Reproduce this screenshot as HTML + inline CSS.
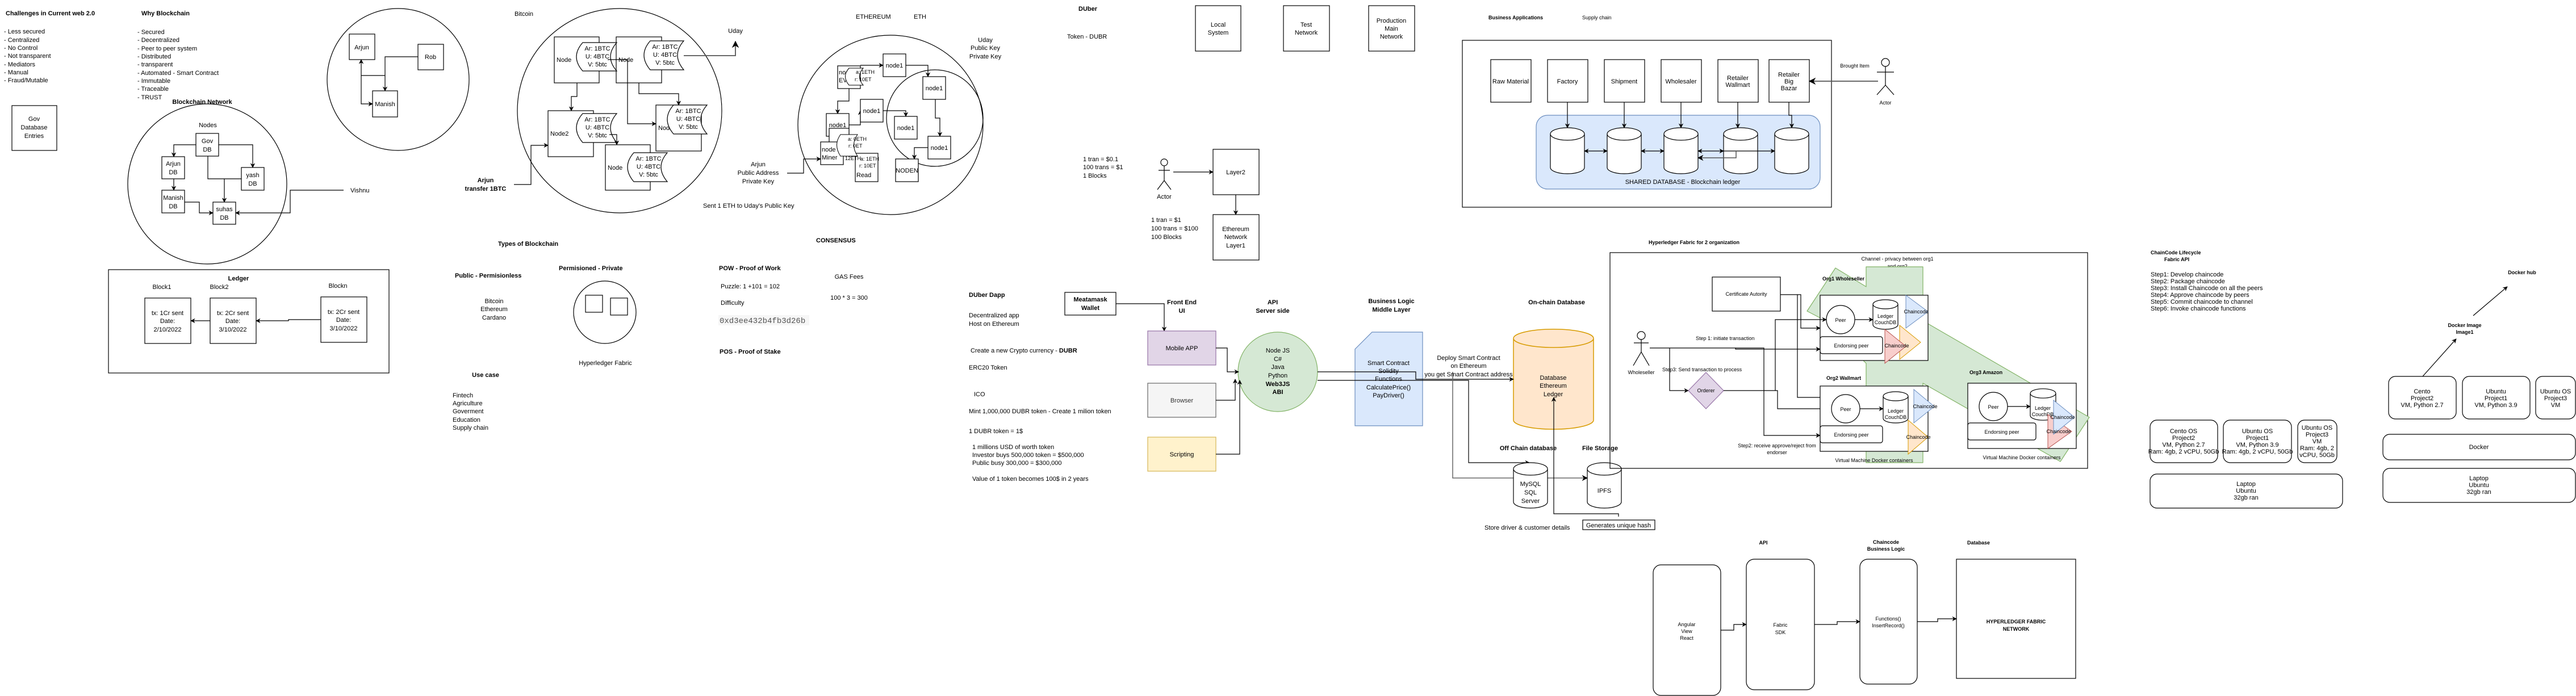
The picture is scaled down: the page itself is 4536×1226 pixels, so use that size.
<!DOCTYPE html>
<html><head><meta charset="utf-8">
<style>
html,body{margin:0;padding:0;background:#fff;}
svg{display:block;font-family:"Liberation Sans",Arial,sans-serif;}
text{font-size:11px;fill:#000;}
.b{font-weight:bold;}
.c{text-anchor:middle;}
.s{font-size:9px;}
.l{fill:none;stroke:#000;stroke-width:1.2;}
.bx{fill:#fff;stroke:#000;stroke-width:1.2;}
</style></head><body>
<svg width="4536" height="1226" viewBox="0 0 4536 1226" xmlns="http://www.w3.org/2000/svg">
<defs>
<marker id="a" viewBox="0 0 10 10" refX="9" refY="5" markerWidth="7" markerHeight="7" orient="auto-start-reverse"><path d="M0,0 L10,5 L0,10 L3,5 Z" fill="#000"/></marker>
</defs>
<rect width="4536" height="1226" fill="#fff"/>

<!-- Challenges -->
<text x="10" y="27" class="b">Challenges in Current web 2.0</text>
<text x="7" y="59">- Less secured</text><text x="7" y="74">- Centralized</text><text x="7" y="88">- No Control</text><text x="7" y="102">- Not transparent</text><text x="7" y="117">- Mediators</text><text x="7" y="131">- Manual</text><text x="7" y="145">- Fraud/Mutable</text>
<text x="249" y="27" class="b">Why Blockchain</text>
<text x="242" y="60">- Secured</text><text x="242" y="74">- Decentralized</text><text x="242" y="89">- Peer to peer system</text><text x="242" y="103">- Distributed</text><text x="242" y="117">- transparent</text><text x="242" y="132">- Automated - Smart Contract</text><text x="242" y="146">- Immutable</text><text x="242" y="160">- Traceable</text><text x="242" y="175">- TRUST</text>
<rect x="21" y="186" width="79" height="79" class="bx"/>
<text x="60" y="213" class="c">Gov</text><text x="60" y="228" class="c">Database</text><text x="60" y="243" class="c">Entries</text>

<!-- Blockchain network -->
<text x="356" y="183" class="b c">Blockchain Network</text>
<ellipse cx="365" cy="324" rx="140" ry="141" class="l"/>
<text x="366" y="224" class="c">Nodes</text>
<path class="l" d="M345,255 H306 V276" marker-end="url(#a)"/>
<path class="l" d="M385,255 H445 V295" marker-end="url(#a)"/>
<path class="l" d="M366,275 V315 H425 M395,315 V356" marker-end="url(#a)"/>
<path class="l" d="M306,315 V335" marker-end="url(#a)"/>
<path class="l" d="M325,356 H351 V375 H375" marker-end="url(#a)"/>
<path class="l" d="M605,335 H511 V375 H415" marker-end="url(#a)"/>
<rect x="345" y="235" width="40" height="40" class="bx"/><text x="365" y="252" class="c">Gov</text><text x="365" y="267" class="c">DB</text>
<rect x="285" y="276" width="40" height="39" class="bx"/><text x="305" y="292" class="c">Arjun</text><text x="305" y="307" class="c">DB</text>
<rect x="425" y="295" width="40" height="40" class="bx"/><text x="445" y="312" class="c">yash</text><text x="445" y="327" class="c">DB</text>
<rect x="285" y="335" width="40" height="40" class="bx"/><text x="305" y="352" class="c">Manish</text><text x="305" y="367" class="c">DB</text>
<rect x="375" y="356" width="40" height="39" class="bx"/><text x="395" y="372" class="c">suhas</text><text x="395" y="387" class="c">DB</text>
<text x="617" y="339">Vishnu</text>

<!-- top right small circle -->
<ellipse cx="701" cy="140" rx="125" ry="125" class="l"/>
<path class="l" d="M736,100 H678 V160" marker-end="url(#a)"/>
<path class="l" d="M636,133 H678"/>
<path class="l" d="M636,133 V105" marker-end="url(#a)"/>
<path class="l" d="M636,133 V183 H656" marker-end="url(#a)"/>
<rect x="615" y="60" width="45" height="45" class="bx"/><text x="637" y="87" class="c">Arjun</text>
<rect x="736" y="78" width="45" height="45" class="bx"/><text x="758" y="104" class="c">Rob</text>
<rect x="656" y="160" width="44" height="46" class="bx"/><text x="678" y="187" class="c">Manish</text>
<text x="855" y="321" class="b c">Arjun</text><text x="855" y="336" class="b c">transfer 1BTC</text>

<!-- Ledger -->
<rect x="191" y="475" width="494" height="182" class="l"/>
<text x="420" y="494" class="b c">Ledger</text>
<text x="285" y="509" class="c">Block1</text><text x="386" y="509" class="c">Block2</text><text x="595" y="507" class="c">Blockn</text>
<rect x="255" y="525" width="81" height="80" class="bx"/><text x="295" y="555" class="c">tx: 1Cr sent</text><text x="295" y="569" class="c">Date:</text><text x="295" y="584" class="c">2/10/2022</text>
<rect x="370" y="525" width="81" height="80" class="bx"/><text x="410" y="555" class="c">tx: 2Cr sent</text><text x="410" y="569" class="c">Date:</text><text x="410" y="584" class="c">3/10/2022</text>
<rect x="565" y="523" width="81" height="80" class="bx"/><text x="605" y="553" class="c">tx: 2Cr sent</text><text x="605" y="567" class="c">Date:</text><text x="605" y="582" class="c">3/10/2022</text>
<path class="l" d="M370,565 H336" marker-end="url(#a)"/>
<path class="l" d="M565,563 H508 V565 H451" marker-end="url(#a)"/>

<!-- Bitcoin -->
<text x="906" y="28">Bitcoin</text>
<ellipse cx="1091" cy="195" rx="180" ry="180" class="l"/>
<rect x="976" y="65" width="79" height="81" class="bx"/><text x="980" y="109">Node</text>
<rect x="1085" y="65" width="80" height="81" class="bx"/><text x="1089" y="109">Node</text>
<rect x="965" y="195" width="80" height="81" class="bx"/><text x="969" y="239">Node2</text>
<rect x="1155" y="185" width="80" height="81" class="bx"/><text x="1159" y="229">Node</text>
<rect x="1066" y="255" width="79" height="80" class="bx"/><text x="1070" y="299">Node</text>
<g class="l" fill="#fff" style="fill:#fff">
<path d="M1026,75 H1086 Q1064,100 1086,125 H1026 Q1004,100 1026,75 Z" style="fill:#fff;stroke:#000;stroke-width:1.2"/>
<path d="M1145,72 H1204 Q1182,97 1204,123 H1145 Q1123,97 1145,72 Z" style="fill:#fff;stroke:#000;stroke-width:1.2"/>
<path d="M1026,200 H1086 Q1064,225 1086,251 H1026 Q1004,225 1026,200 Z" style="fill:#fff;stroke:#000;stroke-width:1.2"/>
<path d="M1186,185 H1245 Q1223,210 1245,236 H1186 Q1164,210 1186,185 Z" style="fill:#fff;stroke:#000;stroke-width:1.2"/>
<path d="M1116,269 H1175 Q1153,294 1175,320 H1116 Q1094,294 1116,269 Z" style="fill:#fff;stroke:#000;stroke-width:1.2"/>
</g>
<g class="c">
<text x="1052" y="89">Ar: 1BTC</text><text x="1052" y="103">U: 4BTC</text><text x="1052" y="117">V: 5btc</text>
<text x="1171" y="86">Ar: 1BTC</text><text x="1171" y="100">U: 4BTC</text><text x="1171" y="114">V: 5btc</text>
<text x="1052" y="214">Ar: 1BTC</text><text x="1052" y="228">U: 4BTC</text><text x="1052" y="242">V: 5btc</text>
<text x="1212" y="199">Ar: 1BTC</text><text x="1212" y="213">U: 4BTC</text><text x="1212" y="227">V: 5btc</text>
<text x="1142" y="283">Ar: 1BTC</text><text x="1142" y="297">U: 4BTC</text><text x="1142" y="311">V: 5btc</text>
</g>
<path d="M1204,98 H1295 V73" style="fill:none;stroke:#555;stroke-width:1.8" marker-end="url(#a)"/>
<text x="1295" y="58" class="c">Uday</text>
<path class="l" d="M1016,146 V170 H1006 V195" marker-end="url(#a)"/>
<path class="l" d="M1125,146 V165 H1195 V185" marker-end="url(#a)"/>
<path class="l" d="M1070,105 H1105 V218 H1155" marker-end="url(#a)"/>
<path class="l" d="M1073,237 H1086 V255" marker-end="url(#a)"/>
<path class="l" d="M905,325 H935 V256 H965" marker-end="url(#a)"/>

<!-- Ethereum -->
<text x="1507" y="33">ETHEREUM</text><text x="1609" y="33">ETH</text>
<ellipse cx="1568" cy="220" rx="163" ry="158" class="l"/>
<ellipse cx="1646" cy="208" rx="85" ry="85" class="l"/>
<text x="1735" y="74" class="c">Uday</text><text x="1735" y="88" class="c">Public Key</text><text x="1735" y="103" class="c">Private Key</text>
<path class="l" d="M1595,115 H1634 V135" marker-end="url(#a)"/>
<path class="l" d="M1515,115 H1555" marker-end="url(#a)"/>
<path class="l" d="M1647,175 V208 H1655 V240" marker-end="url(#a)"/>
<path class="l" d="M1555,195 H1595 V205" marker-end="url(#a)"/>
<path class="l" d="M1634,260 H1610 V280" marker-end="url(#a)"/>
<path class="l" d="M1495,220 H1515 V195" marker-end="url(#a)"/>
<path class="l" d="M1495,156 V178 H1475 V200" marker-end="url(#a)"/>
<rect x="1555" y="95" width="40" height="40" class="bx"/><text x="1575" y="119" class="c">node1</text>
<rect x="1625" y="135" width="40" height="40" class="bx"/><text x="1645" y="159" class="c">node1</text>
<rect x="1515" y="175" width="40" height="40" class="bx"/><text x="1535" y="199" class="c">node1</text>
<rect x="1575" y="205" width="40" height="40" class="bx"/><text x="1595" y="229" class="c">node1</text>
<rect x="1634" y="240" width="40" height="40" class="bx"/><text x="1654" y="264" class="c">node1</text>
<rect x="1455" y="200" width="40" height="40" class="bx"/><text x="1475" y="224" class="c">node1</text>
<rect x="1577" y="280" width="40" height="40" class="bx"/><text x="1597" y="304" class="c">NODEN</text>
<rect x="1475" y="116" width="40" height="40" class="bx"/><text x="1477" y="131">node</text><text x="1477" y="145">EVM</text>
<rect x="1460" y="226" width="35" height="40" class="bx"/>
<rect x="1445" y="250" width="40" height="40" class="bx"/><text x="1447" y="267">node</text><text x="1447" y="281">Miner</text>
<rect x="1506" y="270" width="40" height="50" class="bx"/><text x="1508" y="312">Read</text>
<path d="M1495,120 H1520 Q1507,135 1520,150 H1495 Q1482,135 1495,120 Z" style="fill:#fff;stroke:#000"/>
<path d="M1480,237 H1510 Q1497,255 1510,275 H1480 Q1467,255 1480,237 Z" style="fill:#fff;stroke:#000"/>
<text x="1507" y="130" class="s">a: 1ETH</text><text x="1505" y="143" class="s">r: 10ET</text>
<text x="1493" y="248" class="s">a: 0ETH</text><text x="1494" y="260" class="s">r: 0ET</text><text x="1488" y="282" class="s">12ETH</text>
<text x="1515" y="283" class="s">a: 1ETH</text><text x="1513" y="295" class="s">r: 10ET</text>
<text x="1335" y="293" class="c">Arjun</text><text x="1335" y="308" class="c">Public Address</text><text x="1335" y="323" class="c">Private Key</text>
<path class="l" d="M1386,305 H1415 V280 H1445" marker-end="url(#a)"/>
<text x="1238" y="366">Sent 1 ETH to Uday's Public Key</text>

<text x="877" y="433" class="b">Types of Blockchain</text>
<text x="1437" y="427" class="b">CONSENSUS</text>
<text x="801" y="489" class="b">Public - Permisionless</text>
<text x="984" y="476" class="b">Permisioned - Private</text>
<text x="1266" y="476" class="b">POW - Proof of Work</text>
<text x="1495" y="491" class="c">GAS Fees</text>
<text x="1269" y="508">Puzzle: 1 +101 = 102</text>
<text x="1495" y="528" class="c">100 * 3 = 300</text>
<text x="1269" y="537">Difficulty</text>
<rect x="1265" y="555" width="160" height="18" fill="#f6f6f6"/>
<text x="1267" y="569" style="font-family:'Liberation Mono',monospace;font-size:14px;fill:#555">0xd3ee432b4fb3d26b</text>
<text x="1267" y="623" class="b">POS - Proof of Stake</text>
<text x="870" y="534" class="c">Bitcoin</text><text x="870" y="548" class="c">Ethereum</text><text x="870" y="563" class="c">Cardano</text>
<ellipse cx="1065" cy="550" rx="55" ry="55" class="l"/>
<rect x="1031" y="520" width="30" height="30" class="bx"/>
<rect x="1075" y="525" width="30" height="30" class="bx"/>
<text x="1066" y="643" class="c">Hyperledger Fabric</text>
<text x="855" y="664" class="b c">Use case</text>
<text x="797" y="700">Fintech</text><text x="797" y="714">Agriculture</text><text x="797" y="728">Goverment</text><text x="797" y="743">Education</text><text x="797" y="757">Supply chain</text>

<!-- DUber -->
<text x="1899" y="19" class="b">DUber</text>
<text x="1879" y="68">Token - DUBR</text>
<rect x="2105" y="10" width="80" height="80" class="bx"/><text x="2145" y="47" class="c">Local</text><text x="2145" y="61" class="c">System</text>
<rect x="2260" y="10" width="81" height="80" class="bx"/><text x="2300" y="47" class="c">Test</text><text x="2300" y="61" class="c">Network</text>
<rect x="2410" y="10" width="81" height="80" class="bx"/><text x="2450" y="40" class="c">Production</text><text x="2450" y="54" class="c">Main</text><text x="2450" y="68" class="c">Network</text>
<text x="1907" y="284">1 tran = $0.1</text><text x="1907" y="298">100 trans = $1</text><text x="1907" y="313">1 Blocks</text>
<g class="l"><circle cx="2050" cy="286" r="6"/><path d="M2050,292 V318 M2040,300 H2060 M2050,318 L2038,334 M2050,318 L2062,334"/></g>
<text x="2050" y="350" class="c">Actor</text>
<path class="l" d="M2066,303 H2136" marker-end="url(#a)"/>
<rect x="2136" y="263" width="81" height="80" class="bx"/><text x="2176" y="307" class="c">Layer2</text>
<path class="l" d="M2176,343 V378" marker-end="url(#a)"/>
<rect x="2136" y="378" width="81" height="80" class="bx"/><text x="2176" y="407" class="c">Ethereum</text><text x="2176" y="421" class="c">Network</text><text x="2176" y="436" class="c">Layer1</text>
<text x="2027" y="391">1 tran = $1</text><text x="2027" y="406">100 trans = $100</text><text x="2027" y="421">100 Blocks</text>

<!-- Business apps -->
<text x="2621" y="34" class="b s">Business Applications</text>
<text x="2786" y="34" class="s">Supply chain</text>
<rect x="2575" y="71" width="650" height="294" class="l"/>
<rect x="2705" y="203" width="500" height="130" rx="20" fill="#dae8fc" stroke="#6c8ebf" stroke-width="1.2"/>
<g class="s c">
<rect x="2625" y="105" width="71" height="75" class="bx"/><text x="2660" y="147">Raw Material</text>
<rect x="2725" y="105" width="71" height="75" class="bx"/><text x="2760" y="147">Factory</text>
<rect x="2825" y="105" width="71" height="75" class="bx"/><text x="2860" y="147">Shipment</text>
<rect x="2925" y="105" width="71" height="75" class="bx"/><text x="2960" y="147">Wholesaler</text>
<rect x="3025" y="105" width="71" height="75" class="bx"/><text x="3060" y="141">Retailer</text><text x="3060" y="153">Wallmart</text>
<rect x="3115" y="105" width="71" height="75" class="bx"/><text x="3150" y="135">Retailer</text><text x="3150" y="147">Big</text><text x="3150" y="159">Bazar</text>
<text x="2963" y="324">SHARED DATABASE - Blockchain ledger</text>
</g>
<g>
<path class="l" d="M2760,180 V225" marker-end="url(#a)"/><path class="l" d="M2860,180 V225" marker-end="url(#a)"/><path class="l" d="M2960,180 V225" marker-end="url(#a)"/><path class="l" d="M3060,180 V225" marker-end="url(#a)"/><path class="l" d="M3150,180 V203 H3155 V225" marker-end="url(#a)"/>
</g>
<g style="fill:#fff;stroke:#000;stroke-width:1.2">
<path d="M2730,236 V295 A30,11 0 0 0 2790,295 V236 A30,11 0 0 0 2730,236 A30,11 0 0 0 2790,236"/>
<path d="M2830,236 V295 A30,11 0 0 0 2890,295 V236 A30,11 0 0 0 2830,236 A30,11 0 0 0 2890,236"/>
<path d="M2930,236 V295 A30,11 0 0 0 2990,295 V236 A30,11 0 0 0 2930,236 A30,11 0 0 0 2990,236"/>
<path d="M3035,236 V295 A30,11 0 0 0 3095,295 V236 A30,11 0 0 0 3035,236 A30,11 0 0 0 3095,236"/>
<path d="M3125,236 V295 A30,11 0 0 0 3185,295 V236 A30,11 0 0 0 3125,236 A30,11 0 0 0 3185,236"/>
</g>
<path class="l" d="M2790,266 H2830" marker-start="url(#a)" marker-end="url(#a)"/>
<path class="l" d="M2890,266 H2930" marker-start="url(#a)" marker-end="url(#a)"/>
<path class="l" d="M2990,266 H3035" marker-start="url(#a)" marker-end="url(#a)"/>
<path class="l" d="M3035,266 H3125" marker-end="url(#a)"/>
<path d="M3057,266 V278 H2990" style="fill:none;stroke:#555;stroke-width:1.5" marker-end="url(#a)"/>
<g class="l"><circle cx="3320" cy="110" r="7"/><path d="M3320,117 V150 M3305,127 H3335 M3320,150 L3305,167 M3320,150 L3335,167"/></g>
<text x="3320" y="184" class="c s">Actor</text>
<text x="3266" y="119" class="c s">Brought Item</text>
<path d="M3307,143 H3186" style="fill:none;stroke:#555;stroke-width:1.8" marker-end="url(#a)"/>

<!-- DUber Dapp -->
<text x="1706" y="523" class="b">DUber Dapp</text>
<rect x="1875" y="515" width="90" height="40" class="bx"/><text x="1920" y="531" class="b c">Meatamask</text><text x="1920" y="546" class="b c">Wallet</text>
<text x="1706" y="559">Decentralized app</text><text x="1706" y="574">Host on Ethereum</text>
<text x="2081" y="536" class="b c">Front End</text><text x="2081" y="551" class="b c">UI</text>
<text x="2241" y="536" class="b c">API</text><text x="2241" y="551" class="b c">Server side</text>
<text x="2450" y="534" class="b c">Business Logic</text><text x="2450" y="549" class="b c">Middle Layer</text>
<text x="2741" y="536" class="b c">On-chain Database</text>
<path class="l" d="M1965,535 H2050 V583" marker-end="url(#a)"/>
<rect x="2021" y="583" width="120" height="60" fill="#e1d5e7" stroke="#9673a6" stroke-width="1.2"/><text x="2081" y="617" class="c">Mobile APP</text>
<rect x="2021" y="675" width="120" height="60" fill="#f5f5f5" stroke="#666" stroke-width="1.2"/><text x="2081" y="709" class="c" style="fill:#333">Browser</text>
<rect x="2021" y="770" width="120" height="60" fill="#fff2cc" stroke="#d6b656" stroke-width="1.2"/><text x="2081" y="804" class="c">Scripting</text>
<text x="1709" y="621">Create a new Crypto currency - <tspan class="b">DUBR</tspan></text>
<text x="1706" y="651">ERC20 Token</text>
<text x="1715" y="698">ICO</text>
<text x="1706" y="728">Mint 1,000,000 DUBR token - Create 1 milion token</text>
<text x="1706" y="763">1 DUBR token = 1$</text>
<text x="1712" y="791">1 millions USD of worth token</text><text x="1712" y="805">Investor buys 500,000 token = $500,000</text><text x="1712" y="819">Public busy 300,000 = $300,000</text>
<text x="1712" y="847">Value of 1 token becomes 100$ in 2 years</text>
<ellipse cx="2250" cy="655" rx="70" ry="70" fill="#d5e8d4" stroke="#82b366" stroke-width="1.2"/>
<g class="c"><text x="2250" y="621">Node JS</text><text x="2250" y="636">C#</text><text x="2250" y="650">Java</text><text x="2250" y="665">Python</text><text x="2250" y="680" class="b">Web3JS</text><text x="2250" y="694" class="b">ABI</text></g>
<path class="l" d="M2141,613 H2161 V655 H2181" marker-end="url(#a)"/>
<path class="l" d="M2141,705 H2175 V668" marker-end="url(#a)"/>
<path class="l" d="M2141,800 H2183 V670" marker-end="url(#a)"/>
<path d="M2416,585 H2505 V750 H2386 V615 Z" fill="#dae8fc" stroke="#6c8ebf" stroke-width="1.2"/>
<g class="c"><text x="2445" y="643">Smart Contract</text><text x="2445" y="657">Solidity</text><text x="2445" y="671">Functions</text><text x="2445" y="686">CalculatePrice()</text><text x="2445" y="700">PayDriver()</text></g>
<path d="M2806,596 V740 A70,16 0 0 1 2665,740 V596 A70,16 0 0 1 2806,596 A70,16 0 0 1 2665,596" fill="#ffe6cc" stroke="#d79b00" stroke-width="1.5"/>
<g class="c"><text x="2735" y="669">Database</text><text x="2735" y="683">Ethereum</text><text x="2735" y="698">Ledger</text></g>
<path class="l" d="M2320,655 H2493 V668 H2665" marker-end="url(#a)"/>
<path class="l" d="M2320,670 H2586 V815 H2693" marker-end="url(#a)"/>
<path d="M2558,655 V842 H2795" style="fill:none;stroke:#666;stroke-width:1.5" marker-end="url(#a)"/>
<text x="2586" y="634" class="c">Deploy Smart Contract</text><text x="2586" y="648" class="c">on Ethereum</text><text x="2586" y="663" class="c">you get Smart Contract address</text>
<text x="2691" y="793" class="b c">Off Chain database</text><text x="2786" y="793" class="b">File Storage</text>
<path d="M2665,826 V884 A30,11 0 0 0 2725,884 V826 A30,11 0 0 0 2665,826 A30,11 0 0 0 2725,826" fill="#fff" stroke="#000" stroke-width="1.2"/>
<g class="c"><text x="2695" y="856">MySQL</text><text x="2695" y="871">SQL</text><text x="2695" y="886">Server</text></g>
<path d="M2795,826 V884 A30,11 0 0 0 2855,884 V826 A30,11 0 0 0 2795,826 A30,11 0 0 0 2855,826" fill="#fff" stroke="#000" stroke-width="1.2"/>
<text x="2825" y="868" class="c">IPFS</text>
<path class="l" d="M2850,910 V905 H2736 V700" marker-end="url(#a)"/>
<text x="2614" y="933">Store driver &amp; customer details</text>
<rect x="2787" y="916" width="127" height="17" class="bx"/><text x="2850" y="929" class="c">Generates unique hash</text>

<!-- Hyperledger Fabric -->
<text x="2903" y="430" class="b s">Hyperledger Fabric for 2 organization</text>
<rect x="2835" y="445" width="841" height="380" class="l"/>
<text x="3341" y="459" class="c s">Channel - privacy between org1</text><text x="3341" y="472" class="c s">and org2</text>
<path d="M3232,472 L3286,505 L3286,470 H3386 V565 L3679,735 L3628,813 L3386,675 V815 H3286 V640 L3205,560 L3182,548 Z" fill="#d5e8d4" stroke="#82b366" stroke-width="1.2" stroke-linejoin="round"/>
<text x="3209" y="494" class="b s">Org1 Wholeseller</text>
<rect x="3015" y="488" width="120" height="60" class="bx"/><text x="3075" y="521" class="c s">Certificate Autority</text>
<path class="l" d="M3135,519 H3171 V578 H3205" marker-end="url(#a)"/>
<path class="l" d="M3165,519 V700 H3250 V682" marker-end="url(#a)"/>
<rect x="3205" y="520" width="190" height="115" class="bx"/>
<ellipse cx="3241" cy="563" rx="25" ry="25" class="bx"/><text x="3241" y="567" class="c s">Peer</text>
<path class="l" d="M3266,563 H3298" marker-end="url(#a)"/>
<path d="M3298,536 V572 A22,8 0 0 0 3342,572 V536 A22,8 0 0 0 3298,536 A22,8 0 0 0 3342,536" class="bx"/>
<text x="3320" y="560" class="c s">Ledger</text><text x="3320" y="571" class="c s">CouchDB</text>
<path d="M3356,520 L3395,549 L3356,578 Z" fill="#dae8fc" stroke="#6c8ebf"/><text x="3374" y="552" class="c s">Chaincode</text>
<rect x="3205" y="593" width="110" height="30" rx="4" class="bx"/><text x="3260" y="612" class="c s">Endorsing peer</text>
<path d="M3345,573 L3382,603 L3345,633 Z" fill="#ffe6cc" stroke="#d79b00"/>
<path d="M3319,580 L3356,610 L3319,640 Z" fill="#f8cecc" stroke="#b85450"/>
<text x="3340" y="612" class="c s">Chaincode</text>
<g class="l"><circle cx="2890" cy="591" r="7"/><path d="M2890,598 V620 M2877,604 H2903 M2890,620 L2876,644 M2890,620 L2904,644"/></g>
<text x="2890" y="659" class="c s">Wholeseller</text>
<text x="2986" y="599" class="s">Step 1: initiate transaction</text>
<text x="2927" y="654" class="s">Step3: Send transaction to process</text>
<path class="l" d="M2905,613 H3056 V615 H3205" marker-end="url(#a)"/>
<path class="l" d="M3056,613 H3106 V767 H3205" marker-end="url(#a)"/>
<path class="l" d="M2940,613 V688 H2973" marker-end="url(#a)"/>
<path d="M3004,656 L3035,688 L3004,720 L2973,688 Z" fill="#e1d5e7" stroke="#9673a6" stroke-width="1.2"/><text x="3004" y="691" class="c s">Orderer</text>
<path class="l" d="M3035,688 H3126 V563 H3216" marker-end="url(#a)"/>
<path class="l" d="M3126,688 H3130 V720 H3225" marker-end="url(#a)"/>
<text x="3216" y="669" class="b s">Org2 Wallmart</text>
<rect x="3205" y="680" width="190" height="115" class="bx"/>
<ellipse cx="3250" cy="720" rx="25" ry="25" class="bx"/><text x="3250" y="724" class="c s">Peer</text>
<path class="l" d="M3275,720 H3316" marker-end="url(#a)"/>
<path d="M3316,698 V737 A22,8 0 0 0 3360,737 V698 A22,8 0 0 0 3316,698 A22,8 0 0 0 3360,698" class="bx"/>
<text x="3338" y="727" class="c s">Ledger</text><text x="3338" y="738" class="c s">CouchDB</text>
<path d="M3370,686 L3406,716 L3370,745 Z" fill="#dae8fc" stroke="#6c8ebf"/><text x="3390" y="719" class="c s">Chaincode</text>
<path d="M3360,740 L3395,770 L3360,800 Z" fill="#ffe6cc" stroke="#d79b00"/><text x="3378" y="773" class="c s">Chaincode</text>
<rect x="3205" y="750" width="110" height="30" rx="4" class="bx"/><text x="3260" y="769" class="c s">Endorsing peer</text>
<text x="3129" y="788" class="c s">Step2: receive approve/reject from</text><text x="3129" y="800" class="c s">endorser</text>
<text x="3300" y="814" class="c s">Virtual Machine Docker containers</text>
<text x="3468" y="659" class="b s">Org3 Amazon</text>
<rect x="3465" y="675" width="191" height="115" class="bx"/>
<ellipse cx="3510" cy="716" rx="25" ry="25" class="bx"/><text x="3510" y="720" class="c s">Peer</text>
<path class="l" d="M3535,716 H3575" marker-end="url(#a)"/>
<path d="M3575,693 V732 A22,8 0 0 0 3620,732 V693 A22,8 0 0 0 3575,693 A22,8 0 0 0 3620,693" class="bx"/>
<text x="3597" y="722" class="c s">Ledger</text><text x="3597" y="733" class="c s">CouchDB</text>
<path d="M3606,730 L3648,760 L3606,790 Z" fill="#f8cecc" stroke="#b85450"/>
<path d="M3616,705 L3653,735 L3616,765 Z" fill="#dae8fc" stroke="#6c8ebf"/>
<text x="3632" y="738" class="c s">Chaincode</text><text x="3625" y="763" class="c s">Chaincode</text>
<rect x="3465" y="745" width="120" height="30" rx="4" class="bx"/><text x="3525" y="764" class="c s">Endorsing peer</text>
<text x="3560" y="809" class="c s">Virtual Machine Docker containers</text>

<!-- Bottom Fabric app -->
<text x="3105" y="959" class="b c s">API</text>
<text x="3321" y="958" class="b c s">Chaincode</text><text x="3321" y="970" class="b c s">Business Logic</text>
<text x="3484" y="959" class="b c s">Database</text>
<rect x="2911" y="995" width="119" height="230" rx="14" class="bx"/><text x="2970" y="1103" class="c s">Angular</text><text x="2970" y="1115" class="c s">View</text><text x="2970" y="1127" class="c s">React</text>
<rect x="3075" y="985" width="120" height="230" rx="14" class="bx"/><text x="3135" y="1104" class="c s">Fabric</text><text x="3135" y="1117" class="c s">SDK</text>
<rect x="3275" y="985" width="101" height="220" rx="14" class="bx"/><text x="3325" y="1093" class="c s">Functions()</text><text x="3325" y="1105" class="c s">InsertRecord()</text>
<rect x="3445" y="985" width="210" height="210" class="bx"/><text x="3550" y="1098" class="b c s">HYPERLEDGER FABRIC</text><text x="3550" y="1111" class="b c s">NETWORK</text>
<path class="l" d="M3030,1110 H3053 V1100 H3075" marker-end="url(#a)"/>
<path class="l" d="M3195,1100 H3235 V1095 H3275" marker-end="url(#a)"/>
<path class="l" d="M3376,1095 H3412 V1090 H3445" marker-end="url(#a)"/>

<!-- Chaincode lifecycle / Docker -->
<text x="3787" y="448" class="b s">ChainCode Lifecycle</text><text x="3811" y="460" class="b s">Fabric API</text>
<g class="s"><text x="3787" y="487">Step1: Develop chaincode</text><text x="3787" y="499">Step2: Package chaincode</text><text x="3787" y="511">Step3: Install Chaincode on all the peers</text><text x="3787" y="523">Step4:  Approve chaincode by peers</text><text x="3787" y="535">Step5: Commit chaincode to channel</text><text x="3787" y="547">Step6: Invoke chaincode functions</text></g>
<text x="4441" y="483" class="b c s">Docker hub</text>
<path class="l" d="M4355,556 L4415,505" marker-end="url(#a)"/>
<text x="4340" y="576" class="b c s">Docker Image</text><text x="4340" y="588" class="b c s">Image1</text>
<path class="l" d="M4266,663 L4325,597" marker-end="url(#a)"/>
<g class="s c">
<rect x="4206" y="663" width="119" height="75" rx="12" class="bx"/><text x="4265" y="693">Cento</text><text x="4265" y="705">Project2</text><text x="4265" y="717">VM, Python 2.7</text>
<rect x="4336" y="663" width="119" height="75" rx="12" class="bx"/><text x="4395" y="693">Ubuntu</text><text x="4395" y="705">Project1</text><text x="4395" y="717">VM, Python 3.9</text>
<rect x="4465" y="663" width="70" height="75" rx="12" class="bx"/><text x="4500" y="693">Ubuntu OS</text><text x="4500" y="705">Project3</text><text x="4500" y="717">VM</text>
<rect x="4196" y="765" width="339" height="45" rx="12" class="bx"/><text x="4365" y="791">Docker</text>
<rect x="4196" y="825" width="339" height="60" rx="12" class="bx"/><text x="4365" y="846">Laptop</text><text x="4365" y="858">Ubuntu</text><text x="4365" y="870">32gb ran</text>
<rect x="3786" y="740" width="119" height="75" rx="12" class="bx"/><text x="3845" y="763">Cento OS</text><text x="3845" y="775">Project2</text><text x="3845" y="787">VM, Python 2.7</text><text x="3845" y="799">Ram: 4gb, 2 vCPU, 50Gb</text>
<rect x="3915" y="740" width="120" height="75" rx="12" class="bx"/><text x="3975" y="763">Ubuntu OS</text><text x="3975" y="775">Project1</text><text x="3975" y="787">VM, Python 3.9</text><text x="3975" y="799">Ram: 4gb, 2 vCPU, 50Gb</text>
<rect x="4046" y="740" width="69" height="75" rx="12" class="bx"/><text x="4080" y="757">Ubuntu OS</text><text x="4080" y="769">Project3</text><text x="4080" y="781">VM</text><text x="4080" y="793">Ram: 4gb, 2</text><text x="4080" y="805">vCPU, 50Gb</text>
<rect x="3786" y="835" width="339" height="60" rx="12" class="bx"/><text x="3955" y="856">Laptop</text><text x="3955" y="868">Ubuntu</text><text x="3955" y="880">32gb ran</text>
</g>
</svg>
</body></html>
